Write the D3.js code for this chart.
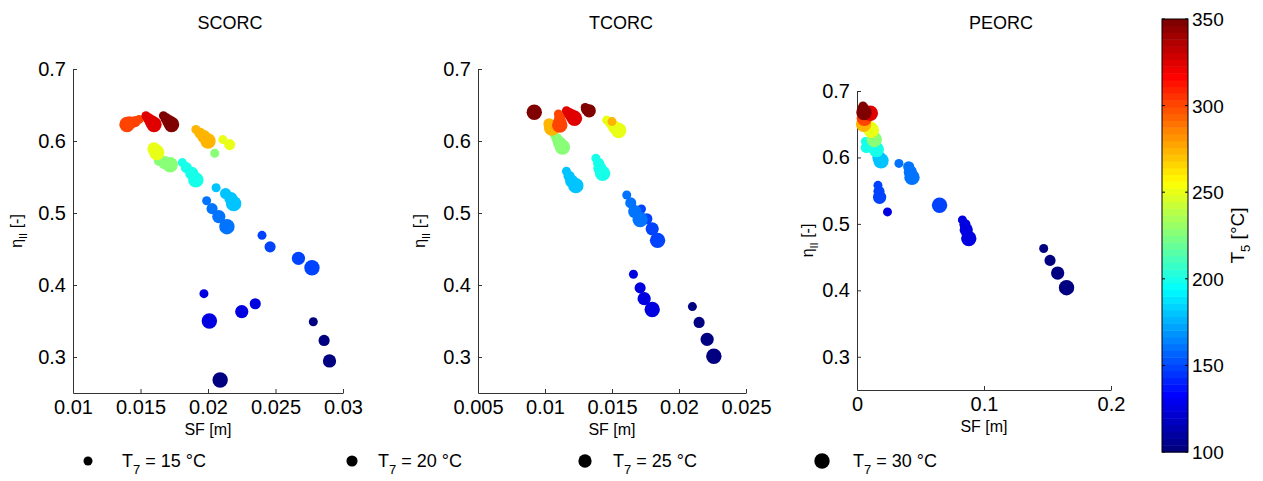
<!DOCTYPE html>
<html>
<head>
<meta charset="utf-8">
<script src="https://cdn.jsdelivr.net/npm/d3@7"></script>
<style>
  body { margin: 0; background: #fff; }
  text { font-family: "Liberation Sans", Arial, sans-serif; fill: #000; }
</style>
</head>
<body>
<div id="chart"></div>
<script>
// Marker size levels (T7) and colour bar ticks (T5)
const t7Levels = [15, 20, 25, 30];
const t5Ticks = [100, 150, 200, 250, 300, 350];
const yTicks = [0.3, 0.4, 0.5, 0.6, 0.7];

// Points are [T5, T7, SF, eta]
const scorcPoints = [
  [100, 15, 0.0278, 0.349], [100, 20, 0.0286, 0.323], [100, 25, 0.0290, 0.2945], [100, 30, 0.0209, 0.268],
  [125, 15, 0.0197, 0.388], [125, 20, 0.0235, 0.374], [125, 25, 0.0225, 0.363], [125, 30, 0.0201, 0.350],
  [150, 15, 0.0240, 0.469], [150, 20, 0.0246, 0.453], [150, 25, 0.0267, 0.437], [150, 30, 0.0277, 0.424],
  [162, 15, 0.0199, 0.517], [162, 20, 0.0203, 0.506], [162, 25, 0.0208, 0.495], [162, 30, 0.0214, 0.481],
  [180, 15, 0.0206, 0.535], [180, 20, 0.0213, 0.527], [180, 25, 0.0217, 0.520], [180, 30, 0.0219, 0.513],
  [200, 15, 0.0181, 0.570], [200, 20, 0.0184, 0.563], [200, 25, 0.0188, 0.555], [200, 30, 0.0191, 0.546],
  [225, 15, 0.0205, 0.583], [225, 20, 0.0164, 0.573], [225, 25, 0.0168, 0.570], [225, 30, 0.0172, 0.567],
  [250, 15, 0.0211, 0.602], [250, 20, 0.0216, 0.595], [250, 25, 0.0160, 0.589], [250, 30, 0.0162, 0.584],
  [275, 15, 0.0191, 0.616], [275, 20, 0.0194, 0.611], [275, 25, 0.0197, 0.606], [275, 30, 0.0200, 0.600],
  [300, 15, 0.0149, 0.630], [300, 20, 0.0146, 0.627], [300, 25, 0.0142, 0.625], [300, 30, 0.0140, 0.623],
  [325, 15, 0.0154, 0.635], [325, 20, 0.0156, 0.631], [325, 25, 0.0158, 0.627], [325, 30, 0.0160, 0.623],
  [350, 15, 0.0167, 0.635], [350, 20, 0.0169, 0.631], [350, 25, 0.0171, 0.627], [350, 30, 0.0173, 0.623]
];

const tcorcPoints = [
  [100, 15, 0.0210, 0.370], [100, 20, 0.0215, 0.348], [100, 25, 0.0221, 0.3245], [100, 30, 0.0226, 0.301],
  [125, 15, 0.0166, 0.415], [125, 20, 0.0171, 0.396], [125, 25, 0.0174, 0.381], [125, 30, 0.0180, 0.366],
  [150, 15, 0.0172, 0.5055], [150, 20, 0.0176, 0.492], [150, 25, 0.0180, 0.478], [150, 30, 0.0184, 0.462],
  [162, 15, 0.0161, 0.525], [162, 20, 0.0164, 0.514], [162, 25, 0.0167, 0.502], [162, 30, 0.0171, 0.491],
  [180, 15, 0.0116, 0.558], [180, 20, 0.0118, 0.551], [180, 25, 0.0120, 0.544], [180, 30, 0.0123, 0.538],
  [200, 15, 0.0138, 0.576], [200, 20, 0.0140, 0.569], [200, 25, 0.0141, 0.562], [200, 30, 0.0143, 0.555],
  [225, 15, 0.0107, 0.6085], [225, 20, 0.0109, 0.603], [225, 25, 0.0111, 0.597], [225, 30, 0.0113, 0.5915],
  [250, 15, 0.0146, 0.629], [250, 20, 0.0149, 0.625], [250, 25, 0.0152, 0.619], [250, 30, 0.0155, 0.6145],
  [275, 15, 0.0150, 0.627], [275, 20, 0.0103, 0.624], [275, 25, 0.0104, 0.621], [275, 30, 0.0105, 0.618],
  [300, 15, 0.0110, 0.6375], [300, 20, 0.0111, 0.632], [300, 25, 0.0111, 0.626], [300, 30, 0.0111, 0.622],
  [325, 15, 0.0116, 0.642], [325, 20, 0.0118, 0.6385], [325, 25, 0.0120, 0.635], [325, 30, 0.0122, 0.6315],
  [350, 15, 0.0130, 0.6465], [350, 20, 0.0131, 0.644], [350, 25, 0.0133, 0.642], [350, 30, 0.0092, 0.640]
];

const peorcPoints = [
  [100, 15, 0.147, 0.463], [100, 20, 0.152, 0.445], [100, 25, 0.158, 0.426], [100, 30, 0.165, 0.404],
  [125, 15, 0.083, 0.506], [125, 20, 0.085, 0.499], [125, 25, 0.086, 0.491], [125, 30, 0.088, 0.478],
  [125, 15, 0.024, 0.518],
  [150, 15, 0.0165, 0.558], [150, 20, 0.0173, 0.549], [150, 25, 0.0178, 0.540], [150, 30, 0.065, 0.528],
  [162, 15, 0.033, 0.591], [162, 20, 0.0407, 0.586], [162, 25, 0.042, 0.578], [162, 30, 0.0433, 0.570],
  [180, 15, 0.0152, 0.614], [180, 20, 0.0163, 0.606], [180, 25, 0.0173, 0.600], [180, 30, 0.0189, 0.595],
  [200, 15, 0.0066, 0.624], [200, 20, 0.0073, 0.615], [200, 25, 0.0118, 0.617], [200, 30, 0.0152, 0.612],
  [225, 15, 0.0118, 0.639], [225, 20, 0.0126, 0.634], [225, 25, 0.0131, 0.630], [225, 30, 0.0136, 0.627],
  [250, 15, 0.0094, 0.649], [250, 20, 0.0102, 0.646], [250, 25, 0.0108, 0.644], [250, 30, 0.0113, 0.641],
  [275, 15, 0.0039, 0.656], [275, 20, 0.0045, 0.654], [275, 25, 0.0050, 0.651], [275, 30, 0.0052, 0.650],
  [300, 15, 0.0045, 0.6665], [300, 20, 0.0050, 0.664], [300, 25, 0.0052, 0.6615], [300, 30, 0.0058, 0.659],
  [325, 15, 0.0073, 0.6715], [325, 20, 0.0084, 0.669], [325, 25, 0.0094, 0.6675], [325, 30, 0.0105, 0.6665],
  [350, 15, 0.0047, 0.6775], [350, 20, 0.0050, 0.674], [350, 25, 0.0052, 0.6705], [350, 30, 0.0055, 0.6675]
];

const panels = [
  { title: "SCORC", points: scorcPoints, xDomain: [0.01, 0.03], xTicks: [0.01, 0.015, 0.02, 0.025, 0.03],
    left: 73, right: 343, top: 69, bottom: 393, titleX: 230, yLabX: 22 },
  { title: "TCORC", points: tcorcPoints, xDomain: [0.005, 0.025], xTicks: [0.005, 0.01, 0.015, 0.02, 0.025],
    left: 478, right: 746, top: 69, bottom: 393, titleX: 621, yLabX: 425 },
  { title: "PEORC", points: peorcPoints, xDomain: [0, 0.2], xTicks: [0, 0.1, 0.2],
    left: 857, right: 1111, top: 91, bottom: 390, titleX: 1001, yLabX: 813 }
];

const W = 1263, H = 481;
const svg = d3.select("#chart").append("svg").attr("width", W).attr("height", H);

// MATLAB style jet colormap, 64 steps
const nColors = 64;
function jet(t) {
  const c = (v) => Math.max(0, Math.min(1, v));
  const r = c(1.5 - Math.abs(4 * t - 3));
  const g = c(1.5 - Math.abs(4 * t - 2));
  const b = c(1.5 - Math.abs(4 * t - 1));
  return d3.rgb(r * 255, g * 255, b * 255).toString();
}
const t5Scale = d3.scaleLinear().domain([100, 350]).range([0, 1]).clamp(true);
function colorFor(v) {
  const idx = Math.min(nColors - 1, Math.floor(t5Scale(v) * nColors));
  return jet(idx / (nColors - 1));
}
const rScale = d3.scaleLinear().domain([15, 30]).range([4.5, 7.7]);
const fmt = d3.format("~g");

panels.forEach((p) => {
  const x = d3.scaleLinear().domain(p.xDomain).range([p.left, p.right]);
  const y = d3.scaleLinear().domain([0.25, 0.7]).range([p.bottom, p.top]);

  const xAxis = svg.append("g")
    .attr("transform", `translate(0,${p.bottom})`)
    .call(d3.axisBottom(x).tickValues(p.xTicks).tickFormat(fmt).tickSizeInner(-4).tickSizeOuter(0).tickPadding(7));
  const yAxis = svg.append("g")
    .attr("transform", `translate(${p.left},0)`)
    .call(d3.axisLeft(y).tickValues(yTicks).tickFormat(fmt).tickSizeInner(-4).tickSizeOuter(0).tickPadding(7));

  [xAxis, yAxis].forEach((a) => {
    a.select(".domain").attr("stroke", "#333");
    a.selectAll(".tick line").attr("stroke", "#333");
    a.selectAll(".tick text").attr("font-size", 20).attr("fill", "#000")
      .style("font-family", "Liberation Sans, Arial, sans-serif");
  });

  // scatter points, low T5 first so warm colours sit on top
  svg.append("g")
    .selectAll("circle")
    .data(p.points)
    .enter()
    .append("circle")
    .attr("cx", (d) => x(d[2]))
    .attr("cy", (d) => y(d[3]))
    .attr("r", (d) => rScale(d[1]))
    .attr("fill", (d) => colorFor(d[0]));

  svg.append("text")
    .attr("x", p.titleX).attr("y", 29)
    .attr("text-anchor", "middle").attr("font-size", 18)
    .text(p.title);

  svg.append("text")
    .attr("x", (p.left + p.right) / 2).attr("y", p.bottom + 42)
    .attr("text-anchor", "middle").attr("font-size", 16)
    .text("SF [m]");

  const yl = svg.append("text")
    .attr("transform", `translate(${p.yLabX},${(p.top + p.bottom) / 2}) rotate(-90)`)
    .attr("text-anchor", "middle").attr("font-size", 16);
  yl.append("tspan").text("η");
  yl.append("tspan").attr("font-size", 11).attr("dy", 5).text("II");
  yl.append("tspan").attr("dy", -5).text(" [-]");
});

// colour bar
const cb = { left: 1162, right: 1188, top: 19, bottom: 452 };
const cbY = d3.scaleLinear().domain([100, 350]).range([cb.bottom, cb.top]);
const steps = d3.range(nColors);
svg.append("g")
  .selectAll("rect")
  .data(steps)
  .enter()
  .append("rect")
  .attr("x", cb.left)
  .attr("width", cb.right - cb.left)
  .attr("y", (i) => cbY(100 + (i + 1) * 250 / nColors))
  .attr("height", (cb.bottom - cb.top) / nColors + 0.5)
  .attr("fill", (i) => jet(i / (nColors - 1)));
svg.append("rect")
  .attr("x", cb.left).attr("y", cb.top)
  .attr("width", cb.right - cb.left).attr("height", cb.bottom - cb.top)
  .attr("fill", "none").attr("stroke", "#000").attr("stroke-width", 1);
const cbTicks = svg.append("g").selectAll("g").data(t5Ticks).enter().append("g");
cbTicks.append("line")
  .attr("x1", cb.left).attr("x2", cb.left + 3)
  .attr("y1", (d) => cbY(d)).attr("y2", (d) => cbY(d)).attr("stroke", "#000");
cbTicks.append("line")
  .attr("x1", cb.right - 3).attr("x2", cb.right)
  .attr("y1", (d) => cbY(d)).attr("y2", (d) => cbY(d)).attr("stroke", "#000");
cbTicks.append("text")
  .attr("x", cb.right + 4).attr("y", (d) => cbY(d) + 7)
  .attr("font-size", 19).text((d) => d);
const cbl = svg.append("text")
  .attr("transform", `translate(1244,${(cb.top + cb.bottom) / 2}) rotate(-90)`)
  .attr("text-anchor", "middle").attr("font-size", 19);
cbl.append("tspan").text("T");
cbl.append("tspan").attr("font-size", 13).attr("dy", 6).text("5");
cbl.append("tspan").attr("dy", -6).text(" [°C]");

// size legend
const legendX = [88, 352, 585, 822];
const legend = svg.append("g").selectAll("g")
  .data(t7Levels)
  .enter()
  .append("g")
  .attr("transform", (d, i) => `translate(${legendX[i]},461)`);
legend.append("circle").attr("r", (d) => rScale(d)).attr("fill", "#000");
const lt = legend.append("text")
  .attr("x", (d, i) => [34, 26, 28, 31][i]).attr("y", 6)
  .attr("font-size", 18);
lt.append("tspan").text("T");
lt.append("tspan").attr("font-size", 13).attr("dy", 7).text("7");
lt.append("tspan").attr("dy", -7).text((d) => ` = ${d} °C`);
</script>
</body>
</html>
